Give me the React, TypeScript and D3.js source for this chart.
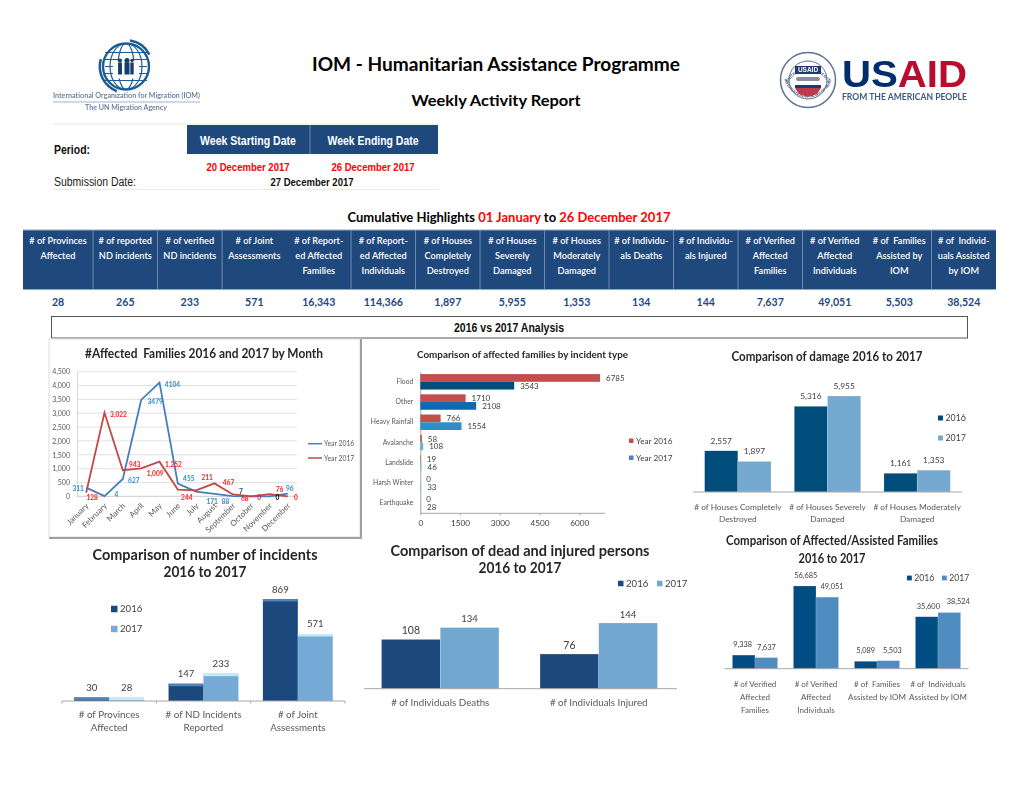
import React, { useRef, useEffect } from 'react';
import * as d3 from 'd3';

const highlightHeaders = [
  ['# of Provinces', 'Affected'],
  ['# of reported', 'ND incidents'],
  ['# of verified', 'ND incidents'],
  ['# of Joint', 'Assessments'],
  ['# of Report-', 'ed Affected', 'Families'],
  ['# of Report-', 'ed Affected', 'Individuals'],
  ['# of Houses', 'Completely', 'Destroyed'],
  ['# of Houses', 'Severely', 'Damaged'],
  ['# of Houses', 'Moderately', 'Damaged'],
  ['# of Individu-', 'als Deaths'],
  ['# of Individu-', 'als Injured'],
  ['# of Verified', 'Affected', 'Families'],
  ['# of Verified', 'Affected', 'Individuals'],
  ['# of  Families', 'Assisted by', 'IOM'],
  ['# of  Individ-', 'uals Assisted', 'by IOM'],
];
const highlightValues = ['28', '265', '233', '571', '16,343', '114,366', '1,897', '5,955', '1,353', '134', '144', '7,637', '49,051', '5,503', '38,524'];

const months = ['January', 'February', 'March', 'April', 'May', 'June', 'July', 'August', 'September', 'October', 'November', 'December'];
const year2016 = [311, 4, 627, 3479, 4104, 455, 171, 88, 7, 0, 0, 96];
const year2017 = [128, 3022, 943, 1009, 1252, 244, 211, 467, 68, 0, 76, 0];
const monthTicks = [0, 500, 1000, 1500, 2000, 2500, 3000, 3500, 4000, 4500];

const incidentTypes = ['Flood', 'Other', 'Heavy Rainfall', 'Avalanche', 'Landslide', 'Harsh Winter', 'Earthquake'];
const type2016 = [6785, 1710, 766, 58, 19, 0, 0];
const type2017 = [3543, 2108, 1554, 108, 46, 33, 28];
const typeTicks = [0, 1500, 3000, 4500, 6000];

const damageCats = [['# of Houses Completely', 'Destroyed'], ['# of Houses Severely', 'Damaged'], ['# of Houses Moderately', 'Damaged']];
const damage2016 = [2557, 5316, 1161];
const damage2017 = [1897, 5955, 1353];

const incidentCats = [['# of Provinces', 'Affected'], ['# of ND Incidents', 'Reported'], ['# of Joint', 'Assessments']];
const incident2016 = [30, 147, 869];
const incident2017 = [28, 233, 571];

const personCats = [['# of Individuals Deaths'], ['# of Individuals Injured']];
const person2016 = [108, 76];
const person2017 = [134, 144];

const familyCats = [['# of Verified', 'Affected', 'Families'], ['# of Verified', 'Affected', 'Individuals'], ['# of  Families', 'Assisted by IOM'], ['# of  Individuals', 'Assisted by IOM']];
const family2016 = [9338, 56685, 5089, 35600];
const family2017 = [7637, 49051, 5503, 38524];

// nudges for the month chart labels, they sit by hand in the original
const blueNudge = [[-8, 3], [12, 1], [11, 4], [14, 4], [13, 4], [11, -3], [16, 12], [11, 10], [8, -2], null, [8, 4], [2, -3]];
const redNudge = [[6, 7], [14, 4], [12, -3], [14, 8], [14, 5], [9, 10], [11, -10], [14, 2], [12, 7], [8, 4], [10, -2], [8, 4]];
// same for the family chart value labels, they dodge each other
const familyNudgeA = [-1, 1, 0, 1.7];
const familyNudgeB = [0, 4.7, 4, 9];

const CALIBRI = 'Lato, sans-serif';
const ARIAL = '"Liberation Sans", Arial, sans-serif';
const NAVY = '#1F497D';

type Sel = d3.Selection<any, any, any, any>;

const put = (g: Sel, x: number, y: number, s: string, size: number, fill = '#404040', weight: any = 400, anchor = 'middle', family = CALIBRI) =>
  g.append('text').attr('x', x).attr('y', y).attr('text-anchor', anchor).style('white-space', 'pre')
    .attr('font-family', family).attr('font-size', size).attr('font-weight', weight).attr('fill', fill).text(s);

// squeeze a text to the width it has in the reference, stands in for Calibri and Arial Narrow
const fit = (g: Sel, x: number, y: number, s: string, size: number, width: number, fill = '#262626', weight: any = 700, anchor = 'middle', family = CALIBRI) =>
  put(g, x, y, s, size, fill, weight, anchor, family).attr('textLength', width).attr('lengthAdjust', 'spacingAndGlyphs');

interface BarOpts {
  cats: string[][];
  a: number[];
  b: number[];
  x0: number;
  x1: number;
  base: number;
  top: number;
  colorA: string;
  colorB: string;
  valueSizes: number[];
  catSize: number;
  catY: number;
  catStep: number;
  bevel?: string[];
  gap: number;
  nudges?: number[][];
  axis?: number[];
}

const groupedBars = (g: Sel, o: BarOpts) => {
  const x = d3.scaleBand<number>().domain(o.cats.map((_, i) => i)).range([o.x0, o.x1]);
  const inner = d3.scaleBand<number>().domain([0, 1]).range([0, x.bandwidth()]).paddingOuter(0.35);
  const y = d3.scaleLinear().domain([0, Math.max(...o.a, ...o.b)]).range([o.base, o.top]);
  const fmt = d3.format(',');

  [o.a, o.b].forEach((vals, s) => {
    vals.forEach((v, i) => {
      const bx = x(i)! + inner(s)!;
      g.append('rect').attr('x', bx).attr('y', y(v)).attr('width', inner.bandwidth()).attr('height', o.base - y(v))
        .attr('fill', s === 0 ? o.colorA : o.colorB).attr('stroke', '#fff').attr('stroke-opacity', o.bevel ? 0 : 0.35).attr('stroke-width', 0.5);
      if (o.bevel) {
        g.append('rect').attr('x', bx).attr('y', y(v)).attr('width', inner.bandwidth()).attr('height', Math.min(2.5, o.base - y(v)))
          .attr('fill', o.bevel[s]);
      }
      const dx = o.nudges ? o.nudges[s][i] : 0;
      put(g, bx + inner.bandwidth() / 2 + dx, y(v) - o.gap, fmt(v), o.valueSizes[s]);
    });
  });

  const [ax0, ax1] = o.axis ?? [o.x0, o.x1];
  g.append('line').attr('x1', ax0).attr('x2', ax1).attr('y1', o.base).attr('y2', o.base).attr('stroke', '#A6A6A6').attr('stroke-width', 1);

  o.cats.forEach((lines, i) => {
    lines.forEach((l, k) => put(g, x(i)! + x.bandwidth() / 2, o.catY + k * o.catStep, l, o.catSize, '#595959'));
  });
};

const drawHeader = (g: Sel) => {
  fit(g, 496, 71, 'IOM - Humanitarian Assistance Programme', 19.5, 368, '#000');
  fit(g, 496, 106, 'Weekly Activity Report', 15, 169, '#000');

  g.append('line').attr('x1', 53).attr('x2', 438).attr('y1', 124).attr('y2', 124).attr('stroke', '#EFE8DC');
  g.append('rect').attr('x', 187).attr('y', 125).attr('width', 251).attr('height', 29).attr('fill', NAVY);
  g.append('line').attr('x1', 310).attr('x2', 310).attr('y1', 125).attr('y2', 154).attr('stroke', '#6D8CB3');
  fit(g, 248, 144.5, 'Week Starting Date', 12.5, 96, '#fff', 700, 'middle', ARIAL);
  fit(g, 373, 144.5, 'Week Ending Date', 12.5, 91, '#fff', 700, 'middle', ARIAL);
  fit(g, 54, 154, 'Period:', 12, 36, '#111', 700, 'start', ARIAL);
  fit(g, 248, 171, '20 December 2017', 11.5, 83, '#FF0000', 700, 'middle', ARIAL);
  fit(g, 373, 171, '26 December 2017', 11.5, 83, '#FF0000', 700, 'middle', ARIAL);
  fit(g, 54, 186, 'Submission Date:', 12, 82, '#222', 400, 'start', ARIAL);
  fit(g, 312, 186, '27 December 2017', 11.5, 83, '#111', 700, 'middle', ARIAL);
  g.append('line').attr('x1', 53).attr('x2', 438).attr('y1', 189.5).attr('y2', 189.5).attr('stroke', '#EFE8DC');

  const cum = put(g, 509, 221.5, '', 13, '#000', 700);
  cum.append('tspan').text('Cumulative Highlights ');
  cum.append('tspan').attr('fill', '#FF0000').text('01 January');
  cum.append('tspan').text(' to ');
  cum.append('tspan').attr('fill', '#FF0000').text('26 December 2017');

  // highlight band, first column is a little wider than the rest
  const col = d3.scaleBand<number>().domain(highlightValues.map((_, i) => i)).range([28.6, 996]);
  const edge = (i: number) => (i === 0 ? 23 : col(i)!);
  const centre = (i: number) => (edge(i) + col(i)! + col.bandwidth()) / 2;

  g.append('rect').attr('x', 23).attr('y', 230).attr('width', 973).attr('height', 59.5).attr('fill', NAVY);
  g.append('line').attr('x1', 23).attr('x2', 996).attr('y1', 230).attr('y2', 230).attr('stroke', '#8FA8C6');
  g.append('line').attr('x1', 23).attr('x2', 996).attr('y1', 289.5).attr('y2', 289.5).attr('stroke', '#8FA8C6');
  highlightHeaders.forEach((lines, i) => {
    if (i > 0 && i !== 4 && i !== 13) {
      g.append('line').attr('x1', edge(i)).attr('x2', edge(i)).attr('y1', 230).attr('y2', 289.5).attr('stroke', '#6D8CB3');
    }
    lines.forEach((l, k) => put(g, centre(i), 243.5 + k * 15, l, 9.2, '#fff', 600));
    put(g, centre(i), 305.5, highlightValues[i], 10.6, NAVY, 700);
  });

  g.append('rect').attr('x', 51.5).attr('y', 316.5).attr('width', 916).attr('height', 21.5).attr('fill', '#fff').attr('stroke', '#555').attr('stroke-width', 1);
  fit(g, 509, 331.5, '2016 vs 2017 Analysis', 12, 110, '#111', 700, 'middle', ARIAL);
};

const drawLogos = (g: Sel) => {
  // IOM mark
  const iom = g.append('g').attr('transform', 'translate(126,66.5)');
  const blue = '#1C5C96';
  iom.append('circle').attr('r', 23).attr('fill', '#fff').attr('stroke', blue).attr('stroke-width', 2.4);
  [8, 16].forEach((rx) => iom.append('ellipse').attr('rx', rx).attr('ry', 23).attr('fill', 'none').attr('stroke', blue).attr('stroke-width', 1.2));
  [-14, -7, 0, 7, 14].forEach((dy) => iom.append('line').attr('x1', -21).attr('x2', 21).attr('y1', dy).attr('y2', dy).attr('stroke', blue).attr('stroke-width', 1.2));
  iom.append('path').attr('d', 'M-13,-1 L0,-13 L13,-1 V12 H-13 Z').attr('fill', '#fff');
  [[-6, 1.4], [1, 1.8], [6, 1.2]].forEach(([px, sc]) => {
    iom.append('circle').attr('cx', px).attr('cy', -6).attr('r', 1.4 * sc).attr('fill', '#123E6B');
    iom.append('rect').attr('x', px - 1.4 * sc).attr('y', -4).attr('width', 2.8 * sc).attr('height', 12).attr('fill', '#123E6B');
  });
  const laurel = d3.arc<any>().innerRadius(25).outerRadius(27.5);
  iom.append('path').attr('d', laurel({ startAngle: 0.15, endAngle: 1.1 })).attr('fill', blue);
  iom.append('path').attr('d', laurel({ startAngle: 3.5, endAngle: 5.0 })).attr('fill', blue);
  fit(g, 126.5, 97.5, 'International Organization for Migration (IOM)', 7, 147, '#5F7896', 600);
  g.append('line').attr('x1', 53).attr('x2', 200).attr('y1', 102).attr('y2', 102).attr('stroke', '#9DB3CE');
  fit(g, 126, 110, 'The UN Migration Agency', 7, 82, '#5F7896', 600);

  // USAID seal and wordmark
  const seal = g.append('g').attr('transform', 'translate(808,80)');
  seal.append('circle').attr('r', 27.5).attr('fill', '#fff').attr('stroke', '#5E7290').attr('stroke-width', 1.5);
  seal.append('circle').attr('r', 19).attr('fill', '#fff').attr('stroke', '#5E7290').attr('stroke-width', 1);
  seal.append('path').attr('id', 'sealTop').attr('d', 'M-21,6 A22,22 0 0 1 21,6').attr('fill', 'none');
  seal.append('path').attr('id', 'sealBottom').attr('d', 'M-24,-2 A24.5,24.5 0 0 0 24,-2').attr('fill', 'none');
  seal.append('text').attr('font-size', 4).attr('font-family', ARIAL).attr('font-weight', 700).attr('fill', '#4B5F80')
    .append('textPath').attr('href', '#sealTop').attr('startOffset', '50%').attr('text-anchor', 'middle').text('UNITED STATES AGENCY');
  seal.append('text').attr('font-size', 4).attr('font-family', ARIAL).attr('font-weight', 700).attr('fill', '#4B5F80')
    .append('textPath').attr('href', '#sealBottom').attr('startOffset', '50%').attr('text-anchor', 'middle').text('INTERNATIONAL DEVELOPMENT');
  seal.append('rect').attr('x', -13).attr('y', -14).attr('width', 26).attr('height', 8).attr('fill', '#1E3A6E');
  put(seal, 0, -8, 'USAID', 6.5, '#fff', 700, 'middle', ARIAL);
  seal.append('rect').attr('x', -12).attr('y', -3).attr('width', 24).attr('height', 4).attr('rx', 2).attr('fill', '#8A8F96');
  seal.append('rect').attr('x', -13).attr('y', 5).attr('width', 26).attr('height', 3).attr('fill', '#1E3A6E');
  seal.append('path').attr('d', 'M-13,8 H13 L9,14 L0,17 L-9,14 Z').attr('fill', '#C0394B');

  const word = g.append('text').attr('x', 842).attr('y', 87).attr('font-family', ARIAL).attr('font-weight', 700).attr('font-size', 37).attr('textLength', 125).attr('lengthAdjust', 'spacingAndGlyphs');
  word.append('tspan').attr('fill', '#002F6C').text('US');
  word.append('tspan').attr('fill', '#BA0C2F').text('AID');
  fit(g, 842, 99.5, 'FROM THE AMERICAN PEOPLE', 8.6, 125, '#3C5A80', 700, 'start');
};

const drawMonthChart = (g: Sel) => {
  g.append('rect').attr('x', 49).attr('y', 339).attr('width', 311).attr('height', 198).attr('fill', '#fff').attr('stroke', '#DDD').attr('stroke-width', 1);
  g.append('path').attr('d', 'M361,339 V538 H49').attr('fill', 'none').attr('stroke', '#A0A0A0').attr('stroke-width', 2);
  fit(g, 204, 358, '#Affected  Families 2016 and 2017 by Month', 13, 238);

  const x = d3.scaleBand<string>().domain(months).range([77, 297]);
  const y = d3.scaleLinear().domain([0, 4500]).range([496.3, 371.7]);
  const px = (i: number) => x(months[i])! + x.bandwidth() / 2;

  const axisY = g.append('g').attr('transform', 'translate(77,0)').call(d3.axisLeft(y).tickValues(monthTicks).tickSize(0).tickPadding(7).tickFormat(d3.format(',') as any));
  axisY.select('.domain').attr('stroke', '#D9D9D9');
  axisY.selectAll('text').attr('font-family', CALIBRI).attr('font-size', 7).attr('fill', '#595959');
  monthTicks.forEach((t) => {
    g.append('line').attr('x1', 77).attr('x2', 297).attr('y1', y(t)).attr('y2', y(t)).attr('stroke', t === 0 ? '#BFBFBF' : '#D9D9D9').attr('stroke-width', 0.8);
  });
  months.forEach((m, i) => {
    put(g, 0, 0, m, 8, '#595959', 400, 'end').attr('transform', `translate(${px(i) + 3},${y(0) + 10}) rotate(-45)`);
  });

  const line = d3.line<number>().x((_, i) => px(i)).y((d) => y(d));
  g.append('path').attr('d', line(year2016)).attr('fill', 'none').attr('stroke', '#4A7EBB').attr('stroke-width', 1.8);
  g.append('path').attr('d', line(year2017)).attr('fill', 'none').attr('stroke', '#BE4B48').attr('stroke-width', 1.8);

  year2016.forEach((v, i) => {
    const n = blueNudge[i];
    if (!n) return;
    const fill = i === 10 ? '#000' : i === 8 ? '#1F497D' : '#2E8FD0';
    put(g, px(i) + n[0], y(v) + n[1], String(v), 6.6, fill, 700);
  });
  year2017.forEach((v, i) => {
    const n = redNudge[i];
    put(g, px(i) + n[0], y(v) + n[1], d3.format(',')(v), 6.6, '#FF2020', 700);
  });

  g.append('line').attr('x1', 308).attr('x2', 322).attr('y1', 443.7).attr('y2', 443.7).attr('stroke', '#4A7EBB').attr('stroke-width', 1.5);
  put(g, 324, 446.3, 'Year 2016', 6.8, '#595959', 400, 'start');
  g.append('line').attr('x1', 308).attr('x2', 322).attr('y1', 458).attr('y2', 458).attr('stroke', '#BE4B48').attr('stroke-width', 1.5);
  put(g, 324, 460.6, 'Year 2017', 6.8, '#595959', 400, 'start');
};

const drawTypeChart = (g: Sel) => {
  fit(g, 522.5, 357.5, 'Comparison of affected families by incident type', 10, 211);

  const x = d3.scaleLinear().domain([0, 6000]).range([420.3, 579.3]);
  const y = d3.scaleBand<string>().domain(incidentTypes).range([371.7, 513.3]);
  const inner = d3.scaleBand<number>().domain([0, 1]).range([0, y.bandwidth()]).paddingOuter(0.31);
  const blues = ['#024E7E', '#0B6BAE', '#2E8FC4', '#6BAEDC', '#8CC0E4', '#8CC0E4', '#8CC0E4'];

  const axisX = g.append('g').attr('transform', 'translate(0,513.3)').call(d3.axisBottom(x).tickValues(typeTicks).tickSize(2).tickPadding(5).tickFormat(d3.format('d') as any));
  axisX.select('.domain').attr('stroke', '#A6A6A6').attr('d', `M420.3,0 H605`);
  axisX.selectAll('line').attr('stroke', '#A6A6A6');
  axisX.selectAll('text').attr('font-family', CALIBRI).attr('font-size', 8.2).attr('fill', '#404040');
  const axisC = g.append('g').attr('transform', 'translate(420.3,0)').call(d3.axisLeft(y).tickSize(0).tickPadding(7));
  axisC.select('.domain').attr('stroke', '#A6A6A6');
  axisC.selectAll('text').attr('font-family', CALIBRI).attr('font-size', 6.8).attr('fill', '#595959');

  incidentTypes.forEach((c, i) => {
    const by = y(c)!;
    [type2016[i], type2017[i]].forEach((v, s) => {
      g.append('rect').attr('x', x(0)).attr('y', by + inner(s)!).attr('width', x(v) - x(0)).attr('height', inner.bandwidth())
        .attr('fill', s === 0 ? '#C0504D' : blues[i]);
      put(g, x(v) + 6, by + inner(s)! + inner.bandwidth() / 2 + 3, String(v), 8, '#404040', 400, 'start');
    });
  });

  g.append('rect').attr('x', 629).attr('y', 438.5).attr('width', 4.5).attr('height', 4.5).attr('fill', '#C0504D');
  put(g, 636, 444, 'Year 2016', 8.2, '#404040', 400, 'start');
  g.append('rect').attr('x', 629).attr('y', 455.5).attr('width', 4.5).attr('height', 4.5).attr('fill', '#4F81BD');
  put(g, 636, 461, 'Year 2017', 8.2, '#404040', 400, 'start');
};

const legendPair = (g: Sel, pts: number[][], size: number, a: string, b: string, box: number) => {
  [['2016', a], ['2017', b]].forEach(([name, color], i) => {
    g.append('rect').attr('x', pts[i][0]).attr('y', pts[i][1] - box / 2).attr('width', box).attr('height', box).attr('fill', color);
    put(g, pts[i][0] + box + 2.5, pts[i][1] + size * 0.36, name, size, '#404040', 400, 'start');
  });
};

const drawBarCharts = (g: Sel) => {
  // damage, top right
  fit(g, 827, 361, 'Comparison of damage 2016 to 2017', 13.5, 191);
  groupedBars(g, { cats: damageCats, a: damage2016, b: damage2017, x0: 693, x1: 962, base: 492, top: 396, colorA: '#034E7B', colorB: '#74A9CF', valueSizes: [8.4, 8.4], catSize: 8.3, catY: 510, catStep: 12.4, gap: 7 });
  legendPair(g, [[938, 418], [938, 438]], 8.8, '#034E7B', '#74A9CF', 5);

  // incidents, bottom left
  fit(g, 205, 560, 'Comparison of number of incidents', 14.5, 225);
  fit(g, 205, 577, '2016 to 2017', 14.5, 83);
  groupedBars(g, { cats: incidentCats, a: incident2016, b: incident2017, x0: 62, x1: 345, base: 701, top: 599, colorA: NAVY, colorB: '#75AAD6', valueSizes: [9.6, 9.6], catSize: 9.8, catY: 717.5, catStep: 13, gap: 6.5, bevel: ['#4F81BD', '#C5EBF9'] });
  g.append('g').selectAll('line').data([62, 156.3, 250.7, 345]).enter().append('line')
    .attr('x1', (d) => d).attr('x2', (d) => d).attr('y1', 701).attr('y2', 703.5).attr('stroke', '#A6A6A6');
  legendPair(g, [[111, 609], [111, 629]], 9.6, NAVY, '#75AAD6', 6.5);

  // dead and injured, bottom centre
  fit(g, 520, 556, 'Comparison of dead and injured persons', 14.4, 259);
  fit(g, 520, 573, '2016 to 2017', 14.4, 83);
  groupedBars(g, { cats: personCats, a: person2016, b: person2017, x0: 361, x1: 678, base: 688.7, top: 623, colorA: NAVY, colorB: '#72A7CF', valueSizes: [10.5, 9.5], catSize: 9.8, catY: 705.5, catStep: 12, gap: 5.5, axis: [364, 677] });
  legendPair(g, [[618, 583.5], [657, 583.5]], 9.6, NAVY, '#72A7CF', 5.5);

  // affected and assisted, bottom right
  fit(g, 832, 545, 'Comparison of Affected/Assisted Families', 13, 212);
  fit(g, 832, 562.5, '2016 to 2017', 13, 67);
  groupedBars(g, { cats: familyCats, a: family2016, b: family2017, x0: 724.5, x1: 968.5, base: 668.7, top: 586, colorA: '#034E84', colorB: '#4F8CC0', valueSizes: [7.4, 7.4], catSize: 8, catY: 687, catStep: 13, gap: 8, nudges: [familyNudgeA, familyNudgeB] });
  legendPair(g, [[907, 578], [942, 578]], 8.6, '#034E84', '#4F8CC0', 4.8);
};

export default function App() {
  const ref = useRef<SVGSVGElement>(null);

  useEffect(() => {
    const svg = d3.select(ref.current);
    svg.selectAll('*').remove();

    // the charts were pasted in as soft bitmaps, a slight blur gets that look
    svg.append('defs').append('filter').attr('id', 'soft').attr('x', '-5%').attr('y', '-5%').attr('width', '110%').attr('height', '110%')
      .append('feGaussianBlur').attr('stdDeviation', 0.4);

    drawHeader(svg.append('g'));
    const soft = svg.append('g').attr('filter', 'url(#soft)');
    drawLogos(soft);
    drawMonthChart(soft);
    drawTypeChart(soft);
    drawBarCharts(soft);
  }, []);

  return <svg ref={ref} width={1020} height={788} style={{ position: 'absolute', left: 0, top: 0, background: '#fff' }} />;
}
